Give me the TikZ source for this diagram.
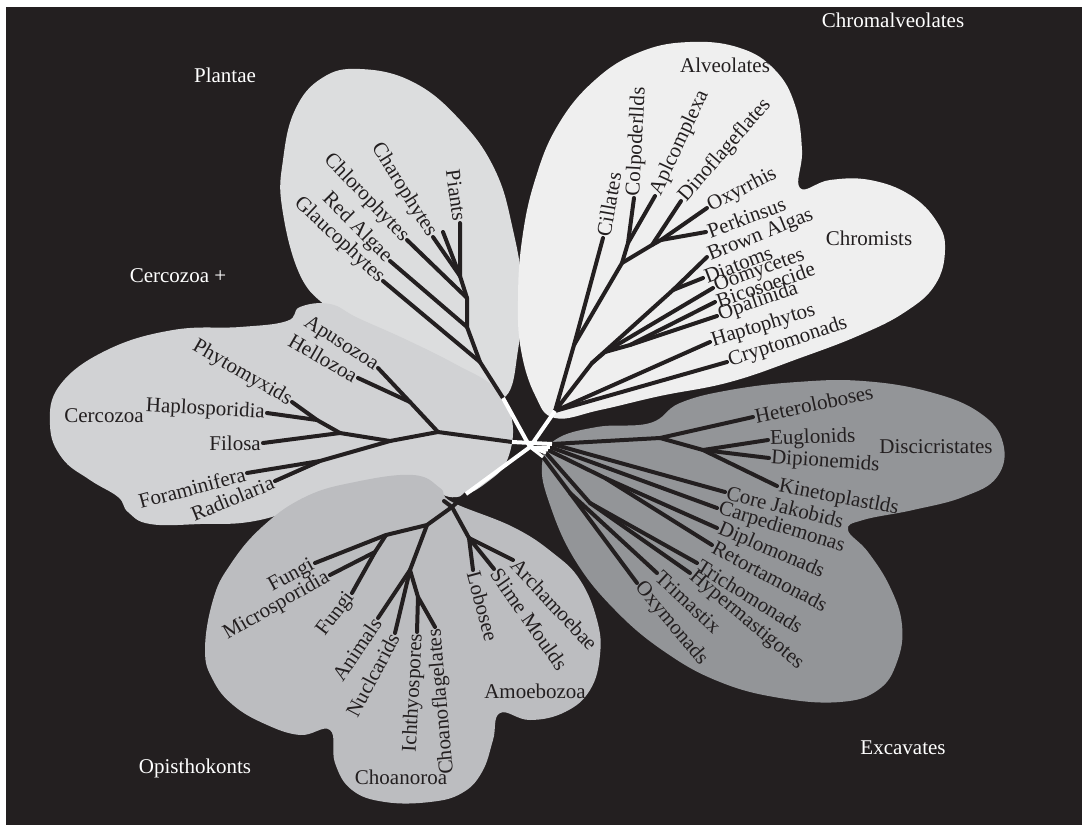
\documentclass[tikz,border=0pt]{standalone}
\usepackage{fontspec}
\setmainfont{Liberation Serif}
\begin{document}
\begin{tikzpicture}[x=1pt,y=-1pt]
\definecolor{bg}{HTML}{231F20}
\definecolor{plantae}{HTML}{DCDDDE}
\definecolor{chromal}{HTML}{EFEFEF}
\definecolor{cerco}{HTML}{D1D2D4}
\definecolor{opis}{HTML}{BCBDC0}
\definecolor{excav}{HTML}{939598}
\tikzset{
  br/.style={draw=bg, line width=4pt, line cap=round, line join=round},
  wbr/.style={draw=white, line width=4pt, line cap=butt},
  lab/.style={font=\fontsize{21}{24}\selectfont, text=bg, inner sep=2pt},
  glab/.style={font=\fontsize{21}{24}\selectfont, text=white, inner sep=0pt},
  ilab/.style={font=\fontsize{21}{24}\selectfont, text=bg, inner sep=0pt},
  blob/.style={smooth cycle, tension=0.7}
}
\useasboundingbox (0,0) rectangle (1082,825);
\fill[white] (0,0) rectangle (1082,825);
\fill[bg] (6,7) rectangle (1082,825);

% ---------- blobs ----------
\fill[plantae] plot[blob] coordinates {(282,207) (283,160) (295,110) (322,78) (360,69) (413,82) (460,120) (495,170) (513,230) (522,290) (518,350) (505,397) (470,392) (420,372) (365,340) (330,310) (300,275)};
\fill[cerco] plot[blob] coordinates {(50,425) (60,385) (107,350) (173,330) (240,327) (287,321) (300,307) (330,304) (358,318) (407,340) (457,365) (495,388) (512,420) (508,458) (490,480) (457,497) (420,490) (340,495) (260,520) (200,524) (150,524) (128,512) (118,497) (90,480) (62,458)};
\fill[chromal] plot[blob] coordinates {(555,418) (535,395) (521,350) (518,300) (522,240) (535,180) (558,125) (595,80) (640,52) (690,42) (740,48) (775,70) (795,105) (802,150) (800,188) (830,180) (870,180) (910,195) (937,222) (945,250) (935,285) (905,312) (860,335) (800,358) (730,382) (660,396) (600,410)};
\fill[excav] plot[blob] coordinates {(650,423) (680,403) (730,390) (797,382) (863,381) (930,392) (980,413) (1003,443) (997,477) (963,497) (913,510) (863,520) (848,530) (868,552) (890,587) (902,625) (897,662) (878,690) (840,702) (780,698) (720,682) (665,652) (615,610) (575,560) (550,505) (542,465) (555,440) (597,427)};
\fill[opis] plot[blob] coordinates {(205,650) (213,600) (230,565) (262,527) (305,497) (355,482) (413,475) (440,488) (452,502) (513,527) (553,553) (580,580) (597,620) (600,655) (590,690) (565,712) (530,720) (500,713) (493,740) (482,772) (462,793) (430,802) (385,802) (352,790) (335,763) (330,730) (300,735) (265,724) (233,705) (213,680)};

% ---------- coordinates ----------
\coordinate (Z) at (530,447);
\coordinate (W1) at (503,398); \coordinate (W2) at (555,411);
\coordinate (W3) at (512,442); \coordinate (W4) at (466,494);
\coordinate (W5) at (552,444); \coordinate (Wa) at (550,447);
\coordinate (Wb) at (548,450); \coordinate (Wc) at (546,453);
\coordinate (Wd) at (543,457);
% plantae
\coordinate (P1) at (480,362); \coordinate (P2) at (467,327);
\coordinate (P3) at (467,298); \coordinate (P4) at (460,276);
\coordinate (lGlau) at (383,281); \coordinate (lRed) at (390,261);
\coordinate (lChlo) at (407,240); \coordinate (lChar) at (433,237);
\coordinate (lCharB) at (443,232); \coordinate (lPia) at (460,223);
% alveolates
\coordinate (A0) at (574,345); \coordinate (A1) at (622,263);
\coordinate (A2) at (628,243); \coordinate (A3) at (652,245);
\coordinate (A4) at (661,240);
\coordinate (lCil) at (603,238); \coordinate (lCol) at (634,198);
\coordinate (lApl) at (655,196); \coordinate (lDin) at (681,201);
\coordinate (lOxy) at (707,208); \coordinate (lPer) at (706,232);
% chromists
\coordinate (C1) at (592,363); \coordinate (C2) at (673,290);
\coordinate (C3) at (605,352); \coordinate (C4) at (630,345);
\coordinate (lBro) at (707,257); \coordinate (lDia) at (703,278);
\coordinate (lOom) at (713,288); \coordinate (lBic) at (715,302);
\coordinate (lOpa) at (717,316); \coordinate (lHap) at (710,342);
\coordinate (lCry) at (727,362);
% cercozoa
\coordinate (H1) at (438,432); \coordinate (H1b) at (410,402);
\coordinate (H2) at (390,441); \coordinate (H3) at (340,433);
\coordinate (H4) at (317,420); \coordinate (H5) at (320,461);
\coordinate (lApu) at (378,368); \coordinate (lHel) at (358,378);
\coordinate (lPhy) at (292,402); \coordinate (lHpl) at (267,413);
\coordinate (lFil) at (263,443); \coordinate (lFor) at (247,473);
\coordinate (lRad) at (275,481);
% opisthokonts / amoebozoa
\coordinate (O0) at (452,507); \coordinate (Ostub) at (444,501);
\coordinate (AM1) at (469,538); \coordinate (O1) at (427,525);
\coordinate (O2) at (386,535); \coordinate (O2b) at (375,552);
\coordinate (O3) at (410,570); \coordinate (O4) at (418,597);
\coordinate (lArc) at (513,560); \coordinate (lSli) at (494,569);
\coordinate (lLob) at (473,570); \coordinate (lFun) at (315,563);
\coordinate (lMic) at (330,575); \coordinate (lFunB) at (352,593);
\coordinate (lAni) at (378,618); \coordinate (lNuc) at (395,633);
\coordinate (lIch) at (417,632); \coordinate (lCho) at (435,627);
% excavates
\coordinate (E1) at (660,438); \coordinate (E2) at (703,450);
\coordinate (J1) at (605,478); \coordinate (J2) at (590,503);
\coordinate (J3) at (570,493);
\coordinate (lHet) at (753,417); \coordinate (lEug) at (768,440);
\coordinate (lDip) at (769,458); \coordinate (lKin) at (777,486);
\coordinate (lCor) at (725,492); \coordinate (lCar) at (717,508);
\coordinate (lDipl) at (717,528); \coordinate (lRet) at (712,545);
\coordinate (lTri) at (697,563); \coordinate (lHyp) at (690,573);
\coordinate (lTrim) at (657,573); \coordinate (lOxym) at (637,583);

% ---------- black branches ----------
% plantae
\draw[br] (W1) -- (P1) -- (P2) -- (P3) -- (P4) -- (lPia);
\draw[br] (P1) -- (lGlau);
\draw[br] (P2) -- (lRed);
\draw[br] (P3) -- (lChlo);
\draw[br] (P4) -- (lChar);
\draw[br] (P4) -- (lCharB);
% alveolates
\draw[br] (W2) -- (A0) -- (lCil);
\draw[br] (A0) -- (A1) -- (A2) -- (lCol);
\draw[br] (A2) -- (lApl);
\draw[br] (A1) -- (A3) -- (lDin);
\draw[br] (A3) -- (A4) -- (lOxy);
\draw[br] (A4) -- (lPer);
% chromists
\draw[br] (W2) -- (C1) -- (C2) -- (lBro);
\draw[br] (C2) -- (lDia);
\draw[br] (C1) -- (C3) -- (lOom);
\draw[br] (C3) -- (C4) -- (lBic);
\draw[br] (C4) -- (lOpa);
\draw[br] (W2) -- (lHap);
\draw[br] (W2) -- (lCry);
% cercozoa
\draw[br] (W3) -- (H1) -- (H1b) -- (lApu);
\draw[br] (H1b) -- (lHel);
\draw[br] (H1) -- (H2) -- (H3) -- (lFil);
\draw[br] (H3) -- (H4) -- (lPhy);
\draw[br] (H4) -- (lHpl);
\draw[br] (H2) -- (H5) -- (lFor);
\draw[br] (H5) -- (lRad);
% opisthokonts / amoebozoa
\draw[br] (W4) -- (O0) -- (Ostub);
\draw[br] (O0) -- (AM1) -- (lArc);
\draw[br] (AM1) -- (lSli);
\draw[br] (AM1) -- (lLob);
\draw[br] (O0) -- (O1) -- (O2) -- (lFun);
\draw[br] (O2) -- (O2b) -- (lMic);
\draw[br] (O2b) -- (lFunB);
\draw[br] (O1) -- (O3) -- (lAni);
\draw[br] (O3) -- (lNuc);
\draw[br] (O3) -- (O4) -- (lIch);
\draw[br] (O4) -- (lCho);
% excavates
\draw[br] (W5) -- (E1) -- (lHet);
\draw[br] (E1) -- (E2) -- (lEug);
\draw[br] (E2) -- (lDip);
\draw[br] (E2) -- (lKin);
\draw[br] (W5) -- (lCor);
\draw[br] (Wa) -- (lCar);
\draw[br] (Wb) -- (J1) -- (lDipl);
\draw[br] (J1) -- (lRet);
\draw[br] (Wc) -- (J2) -- (lTri);
\draw[br] (J2) -- (lHyp);
\draw[br] (Wd) -- (J3) -- (lTrim);
\draw[br] (J3) -- (lOxym);

% ---------- white root ----------
\draw[wbr] (Z) -- (W1);
\draw[wbr] (Z) -- (W2);
\draw[wbr] (W3) -- (W5);
\draw[wbr] (Z) -- (W4);
\draw[wbr, line width=3pt] (Z) -- (Wa);
\draw[wbr, line width=3pt] (Z) -- (Wb);
\draw[wbr, line width=3pt] (Z) -- (Wc);
\draw[wbr, line width=3pt] (Z) -- (Wd);

% ---------- leaf labels ----------
\node[lab, anchor=east, rotate=-82] (tPia) at (lPia) {Piants};
\node[lab, anchor=east, rotate=-58] (tChar) at (lChar) {Charophytes};
\node[lab, anchor=east, rotate=-46] (tChlo) at (lChlo) {Chlorophytes};
\node[lab, anchor=east, rotate=-45] (tRed) at (lRed) {Red Algae};
\node[lab, anchor=east, rotate=-43] (tGlau) at (lGlau) {Glaucophytes};

\node[lab, anchor=west, rotate=80] (tCil) at (lCil) {Cillates};
\node[lab, anchor=west, rotate=87] (tCol) at (lCol) {Colpoderllds};
\node[lab, anchor=west, rotate=65] (tApl) at (lApl) {Aplcomplexa};
\node[lab, anchor=west, rotate=49] (tDin) at (lDin) {Dinoflageflates};
\node[lab, anchor=west, rotate=27] (tOxy) at (lOxy) {Oxyrrhis};
\node[lab, anchor=west, rotate=20] (tPer) at (lPer) {Perkinsus};
\node[lab, anchor=west, rotate=22] (tBro) at (lBro) {Brown Algas};
\node[lab, anchor=west, rotate=21] (tDia) at (lDia) {Diatoms};
\node[lab, anchor=west, rotate=20] (tOom) at (lOom) {Oomycetes};
\node[lab, anchor=west, rotate=19] (tBic) at (lBic) {Bicosoecide};
\node[lab, anchor=west, rotate=19] (tOpa) at (lOpa) {Opalinida};
\node[lab, anchor=west, rotate=17] (tHap) at (lHap) {Haptophytos};
\node[lab, anchor=west, rotate=18] (tCry) at (lCry) {Cryptomonads};

\node[lab, anchor=east, rotate=-33] (tApu) at (lApu) {Apusozoa};
\node[lab, anchor=east, rotate=-30] (tHel) at (lHel) {Hellozoa};
\node[lab, anchor=east, rotate=-30] (tPhy) at (lPhy) {Phytomyxids};
\node[lab, anchor=east, rotate=-3] (tHpl) at (lHpl) {Haplosporidia};
\node[lab, anchor=east, rotate=0] (tFil) at (lFil) {Filosa};
\node[lab, anchor=east, rotate=15] (tFor) at (lFor) {Foraminifera};
\node[lab, anchor=east, rotate=22] (tRad) at (lRad) {Radiolaria};

\node[lab, anchor=west, rotate=12] (tHet) at (lHet) {Heteroloboses};
\node[lab, anchor=west, rotate=2] (tEug) at (lEug) {Euglonids};
\node[lab, anchor=west, rotate=-4] (tDip) at (lDip) {Dipionemids};
\node[lab, anchor=west, rotate=-11] (tKin) at (lKin) {Kinetoplastlds};
\node[lab, anchor=west, rotate=-14] (tCor) at (lCor) {Core Jakobids};
\node[lab, anchor=west, rotate=-17] (tCar) at (lCar) {Carpediemonas};
\node[lab, anchor=west, rotate=-23] (tDipl) at (lDipl) {Diplomonads};
\node[lab, anchor=west, rotate=-28] (tRet) at (lRet) {Retortamonads};
\node[lab, anchor=west, rotate=-32] (tTri) at (lTri) {Trichomonads};
\node[lab, anchor=west, rotate=-40] (tHyp) at (lHyp) {Hypermastigotes};
\node[lab, anchor=west, rotate=-43] (tTrim) at (lTrim) {Trimastix};
\node[lab, anchor=west, rotate=-50] (tOxym) at (lOxym) {Oxymonads};

\node[lab, anchor=east, rotate=29] (tFun) at (lFun) {Fungi};
\node[lab, anchor=east, rotate=30] (tMic) at (lMic) {Microsporidia};
\node[lab, anchor=east, rotate=53] (tFunB) at (lFunB) {Fungi};
\node[lab, anchor=east, rotate=56] (tAni) at (lAni) {Animals};
\node[lab, anchor=east, rotate=62] (tNuc) at (lNuc) {Nuclcarids};
\node[lab, anchor=east, rotate=87] (tIch) at (lIch) {Ichthyospores};
\node[lab, anchor=east, rotate=95] (tCho) at (lCho) {Choanoflagelates};
\node[lab, anchor=west, rotate=-75] (tLob) at (lLob) {Lobosee};
\node[lab, anchor=west, rotate=-55] (tSli) at (lSli) {Slime Moulds};
\node[lab, anchor=west, rotate=-47] (tArc) at (lArc) {Archamoebae};

% ---------- group labels ----------
\node[glab] (gChr) at (893,20) {Chromalveolates};
\node[glab] (gPla) at (225,75) {Plantae};
\node[glab] (gCer) at (178,276) {Cercozoa +};
\node[glab] (gOpi) at (195,768) {Opisthokonts};
\node[glab] (gExc) at (903,748) {Excavates};
\node[ilab] (iAlv) at (725,65) {Alveolates};
\node[ilab] (iChr) at (869,238) {Chromists};
\node[ilab] (iCer) at (104,416) {Cercozoa};
\node[ilab] (iDis) at (936,447) {Discicristates};
\node[ilab] (iAmo) at (535,691) {Amoebozoa};
\node[ilab] (iCho) at (401,777) {Choanoroa};
\end{tikzpicture}
\end{document}
